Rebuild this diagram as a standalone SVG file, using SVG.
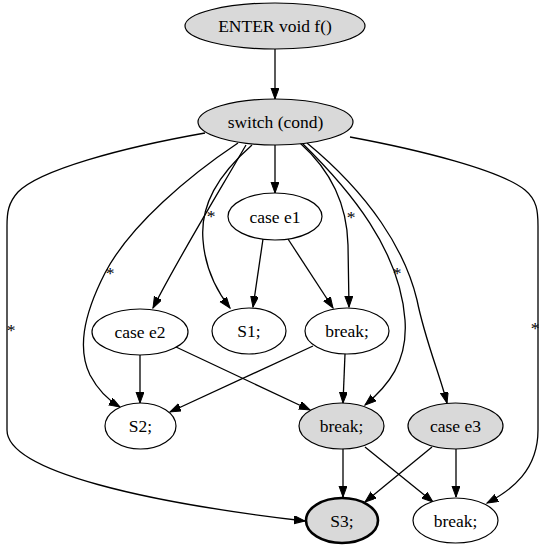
<svg xmlns="http://www.w3.org/2000/svg" width="541" height="545" viewBox="0 0 541 545">
  <style>
    text { font-family: "Liberation Serif", "Times New Roman", serif; font-size: 17.5px; fill: #000; text-anchor: middle; }
    .node ellipse { stroke: #000; stroke-width: 1.2; fill: #fff; }
    .node.shaded ellipse { fill: #d9d9d9; }
    .node.exit ellipse { stroke-width: 2.6; }
    .edges path { fill: none; stroke: #000; stroke-width: 1.3; marker-end: url(#arrow); }
  </style>
  <defs>
    <marker id="arrow" markerUnits="userSpaceOnUse" markerWidth="12" markerHeight="9" refX="11" refY="4" orient="auto">
      <path d="M0,0 L11,4 L0,8 z" fill="#000" stroke="#000" stroke-width="1"/>
    </marker>
  </defs>
  <rect width="541" height="545" fill="#fff"/>

  <!-- connectors -->
  <g id="edges" class="edges">
    <path d="M275,49 L275,99"/>
    <path d="M275,145 L275,193"/>
    <path d="M205,133 C120,148 40,170 18,192 C8,203 7,213 7,226 L7,430 C7,472 150,503 305,521"/>
    <path d="M238,143 C190,175 130,225 105,273 C82,318 78,350 90,375 C98,390 108,400 120,407"/>
    <path d="M246,145 C220,190 180,255 153,308"/>
    <path d="M252,145 C218,175 200,205 203,240 C205,268 216,290 230,308"/>
    <path d="M300,143 C328,168 347,200 348,245 L349,307"/>
    <path d="M302,143 C350,190 400,250 405,320 C408,362 388,386 365,405"/>
    <path d="M307,143 C370,195 405,250 417,300 C425,340 440,375 447,403"/>
    <path d="M350,137 C420,150 500,170 525,190 C537,200 538,211 538,226 L538,430 C538,470 512,490 487,503"/>
    <path d="M263,239 L253,307"/>
    <path d="M288,239 L333,308"/>
    <path d="M140,355 L140,403"/>
    <path d="M176,347 L310,410"/>
    <path d="M313,346 L170,412"/>
    <path d="M345,354 L343,403"/>
    <path d="M343,449 L343,497"/>
    <path d="M365,447 L433,502"/>
    <path d="M432,447 L365,502"/>
    <path d="M456,449 L456,497"/>
    <g id="edge-labels">
      <text x="11" y="336">*</text>
      <text x="110" y="279">*</text>
      <text x="211" y="222">*</text>
      <text x="351" y="223">*</text>
      <text x="397" y="279">*</text>
      <text x="535" y="334">*</text>
    </g>
  </g>

  <!-- nodes -->
  <g id="enter" class="node shaded">
    <ellipse cx="275" cy="26" rx="90" ry="23"/>
    <text x="275" y="32">ENTER void f()</text>
  </g>
  <g id="switch" class="node shaded">
    <ellipse cx="275.5" cy="122" rx="77.5" ry="23"/>
    <text x="275.5" y="128">switch (cond)</text>
  </g>
  <g id="case-e1" class="node">
    <ellipse cx="275" cy="216.5" rx="47" ry="23.5"/>
    <text x="275" y="222.5">case e1</text>
  </g>
  <g id="case-e2" class="node">
    <ellipse cx="140" cy="332" rx="48" ry="23"/>
    <text x="140" y="338">case e2</text>
  </g>
  <g id="s1" class="node">
    <ellipse cx="249" cy="331" rx="37" ry="23"/>
    <text x="249" y="337">S1;</text>
  </g>
  <g id="break-1" class="node">
    <ellipse cx="347" cy="331" rx="42" ry="23"/>
    <text x="347" y="337">break;</text>
  </g>
  <g id="s2" class="node">
    <ellipse cx="140.5" cy="426" rx="35.5" ry="23"/>
    <text x="140.5" y="432">S2;</text>
  </g>
  <g id="break-2" class="node shaded">
    <ellipse cx="341.5" cy="426" rx="42.5" ry="23"/>
    <text x="341.5" y="432">break;</text>
  </g>
  <g id="case-e3" class="node shaded">
    <ellipse cx="455.5" cy="426" rx="47.5" ry="23"/>
    <text x="455.5" y="432">case e3</text>
  </g>
  <g id="s3" class="node shaded exit">
    <ellipse cx="342" cy="520.5" rx="36" ry="22.5"/>
    <text x="342" y="526.5">S3;</text>
  </g>
  <g id="break-3" class="node">
    <ellipse cx="455.5" cy="520.5" rx="42.5" ry="22.5"/>
    <text x="455.5" y="526.5">break;</text>
  </g>
</svg>
